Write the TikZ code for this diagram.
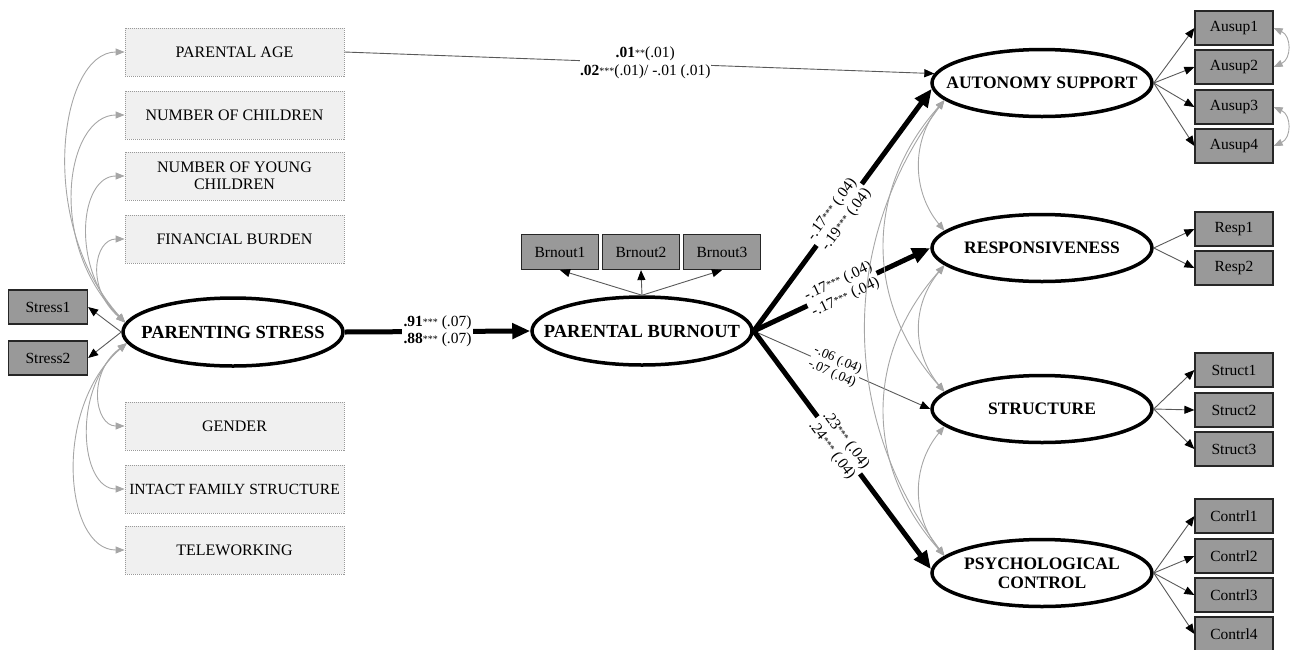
\documentclass[tikz,border=0pt]{standalone}
\usepackage{fontspec}
\setmainfont{Liberation Serif}
\usetikzlibrary{arrows.meta,shapes.geometric,calc}
\newcommand{\stars}[1]{\raisebox{0.2ex}{\fontsize{10}{10}\selectfont #1}}
\tikzset{
  covbox/.style={draw=black!40, dash pattern=on 1pt off 1pt, line width=0.8pt, fill=black!6,
    minimum width=219pt, minimum height=48pt, inner sep=0pt, align=center,
    font=\fontsize{16}{17}\selectfont},
  ind/.style={draw=black!85, line width=1.2pt, fill=black!40, minimum width=78pt,
    minimum height=34pt, inner sep=0pt, font=\fontsize{15.5}{15.5}\selectfont},
  lat/.style={ellipse, draw, line width=3.5pt, minimum width=220pt, minimum height=68pt,
    inner xsep=-30pt, inner ysep=0pt, align=center, font=\bfseries\fontsize{17.5}{19}\selectfont},
  bigpath/.style={line width=5pt, -{Triangle[length=18pt,width=15pt]}},
  thinpath/.style={draw=black!65, line width=0.9pt, -{Triangle[length=10pt,width=8pt,color=black]}},
  covline/.style={draw=black!35, line width=0.9pt,
    {Triangle[length=9pt,width=7pt]}-{Triangle[length=9pt,width=7pt]}},
  lbl/.style={fill=white, inner sep=1.5pt, align=center, font=\fontsize{15.5}{17.5}\selectfont},
  slbl/.style={fill=white, inner sep=1pt, align=center, font=\fontsize{13.5}{14.5}\selectfont},
}
\begin{document}
\begin{tikzpicture}[x=1pt,y=-1pt]
\useasboundingbox (0,0) rectangle (1291,649);
% covariates
\node[covbox] (age) at (234.5,52) {PARENTAL AGE};
\node[covbox] (nch) at (234.5,115) {NUMBER OF CHILDREN};
\node[covbox] (nyc) at (234.5,176) {NUMBER OF YOUNG\\CHILDREN};
\node[covbox] (fin) at (234.5,239) {FINANCIAL BURDEN};
\node[covbox] (gen) at (234.5,426) {GENDER};
\node[covbox, font=\fontsize{15.5}{16}\selectfont] (ifs) at (234.5,489) {INTACT FAMILY STRUCTURE};
\node[covbox] (tel) at (234.5,550) {TELEWORKING};
% stress
\node[ind, minimum width=79pt] (s1) at (48,307) {Stress1};
\node[ind, minimum width=79pt] (s2) at (48,358) {Stress2};
\node[lat, font=\bfseries\fontsize{18.5}{19}\selectfont] (ps) at (233,332) {PARENTING STRESS};
\node[lat, font=\bfseries\fontsize{18.5}{19}\selectfont] (pb) at (642,331) {PARENTAL BURNOUT};
\node[ind, minimum width=77pt, minimum height=35pt] (b1) at (560,252) {Brnout1};
\node[ind, minimum width=77pt, minimum height=35pt] (b2) at (641,252) {Brnout2};
\node[ind, minimum width=77pt, minimum height=35pt] (b3) at (722,252) {Brnout3};
% outcomes
\node[lat, minimum height=67pt] (as) at (1042,83) {AUTONOMY SUPPORT};
\node[lat, minimum height=67pt] (rs) at (1042,248) {RESPONSIVENESS};
\node[lat, minimum height=67pt] (st) at (1042,409) {STRUCTURE};
\node[lat, minimum height=67pt] (pc) at (1042,573) {PSYCHOLOGICAL\\CONTROL};
% right indicators
\node[ind] (a1) at (1234,28) {Ausup1};
\node[ind] (a2) at (1234,67) {Ausup2};
\node[ind] (a3) at (1234,107) {Ausup3};
\node[ind] (a4) at (1234,146) {Ausup4};
\node[ind] (r1) at (1234,229) {Resp1};
\node[ind] (r2) at (1234,268) {Resp2};
\node[ind] (t1) at (1234,370) {Struct1};
\node[ind] (t2) at (1234,410) {Struct2};
\node[ind] (t3) at (1234,449) {Struct3};
\node[ind] (c1) at (1234,516) {Contrl1};
\node[ind] (c2) at (1234,556) {Contrl2};
\node[ind] (c3) at (1234,595) {Contrl3};
\node[ind] (c4) at (1234,634) {Contrl4};

% left covariances
\draw[covline] (ps.175) .. controls +(-90,-100) and +(-65,0) .. (age.west);
\draw[covline] (ps.175) .. controls +(-80,-80) and +(-58,0) .. (nch.west);
\draw[covline] (ps.175) .. controls +(-55,-55) and +(-45,0) .. (nyc.west);
\draw[covline] (ps.175) .. controls +(-40,-35) and +(-30,0) .. (fin.west);
\draw[covline] (ps.186) .. controls +(-40,30) and +(-30,0) .. (gen.west);
\draw[covline] (ps.186) .. controls +(-55,45) and +(-45,0) .. (ifs.west);
\draw[covline] (ps.186) .. controls +(-75,65) and +(-60,0) .. (tel.west);
% stress indicators
\draw[thinpath] (ps.west) -- (s1.east);
\draw[thinpath] (ps.west) -- (s2.east);
% burnout indicators
\draw[thinpath] (pb.north) -- (b1.south);
\draw[thinpath] (pb.north) -- (b2.south);
\draw[thinpath] (pb.north) -- (b3.south);
% structural paths
\draw[bigpath] (ps.east) -- node[lbl]{\textbf{.91}\stars{***} (.07)\\\textbf{.88}\stars{***} (.07)} (pb.west);
\draw[thinpath] (age.east) -- node[lbl, pos=0.51, inner sep=0.5pt]{\textbf{.01}\stars{**}(.01)\\\textbf{.02}\stars{***}(.01)/ -.01 (.01)} (as.175);
\draw[bigpath] (pb.east) -- node[lbl, sloped, pos=0.48]{-.17\stars{***} (.04)\\-.19\stars{***} (.04)} (as.183);
\draw[bigpath] (pb.east) -- node[lbl, sloped, pos=0.5]{-.17\stars{***} (.04)\\-.17\stars{***} (.04)} (rs.west);
\draw[thinpath] (pb.east) -- node[slbl, sloped, pos=0.46]{-.06 (.04)\\-.07 (.04)} (st.west);
\draw[bigpath] (pb.east) -- node[lbl, sloped, pos=0.48]{.23\stars{***} (.04)\\.24\stars{***} (.04)} (pc.178);
% outcome covariances
\draw[covline] (as.190) .. controls +(-33,40) and +(-33,-40) .. (rs.170);
\draw[covline] (as.190) .. controls +(-80,90) and +(-80,-90) .. (st.170);
\draw[covline] (as.190) .. controls +(-105,140) and +(-105,-140) .. (pc.170);
\draw[covline] (rs.190) .. controls +(-33,40) and +(-33,-40) .. (st.170);
\draw[covline] (rs.190) .. controls +(-80,90) and +(-80,-90) .. (pc.170);
\draw[covline] (st.190) .. controls +(-33,40) and +(-33,-40) .. (pc.170);
% measurement paths right
\draw[thinpath] (as.east) -- (a1.west);
\draw[thinpath] (as.east) -- (a2.west);
\draw[thinpath] (as.east) -- (a3.west);
\draw[thinpath] (as.east) -- (a4.west);
\draw[thinpath] (rs.east) -- (r1.west);
\draw[thinpath] (rs.east) -- (r2.west);
\draw[thinpath] (st.east) -- (t1.west);
\draw[thinpath] (st.east) -- (t2.west);
\draw[thinpath] (st.east) -- (t3.west);
\draw[thinpath] (pc.east) -- (c1.west);
\draw[thinpath] (pc.east) -- (c2.west);
\draw[thinpath] (pc.east) -- (c3.west);
\draw[thinpath] (pc.east) -- (c4.west);
% residual covariances
\draw[covline] (a1.east) .. controls +(18,8) and +(18,-8) .. (a2.east);
\draw[covline] (a3.east) .. controls +(18,8) and +(18,-8) .. (a4.east);
\end{tikzpicture}
\end{document}
